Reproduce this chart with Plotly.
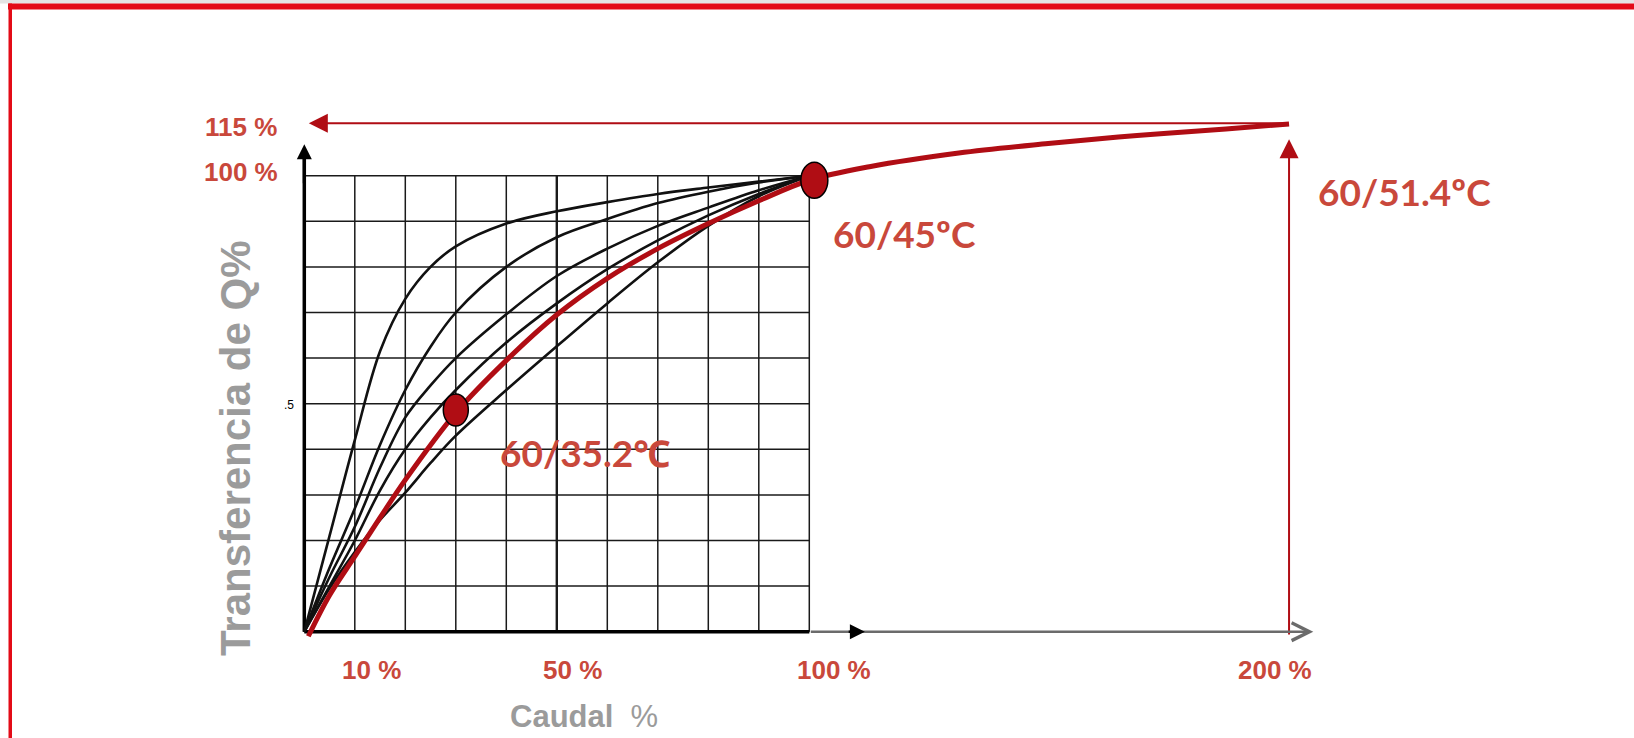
import plotly.graph_objects as go

W, H = 1634, 738
# pixel placement of the 0..1 frame of the chart inside the page
X0_PX, X_UNIT = 304.3, 505.0
Y0_PX, Y_UNIT = 631.7, 456.0

# ---------------- data ----------------
grid_ticks = [i / 10 for i in range(11)]

flow = [0.0, 0.05, 0.1, 0.15, 0.2, 0.25, 0.3, 0.4, 0.5, 0.6, 0.7, 0.8, 0.9, 1.0]
curve_a = [0.0, 0.21, 0.42, 0.615, 0.73, 0.80, 0.845, 0.895, 0.922, 0.942, 0.96, 0.974, 0.987, 1.0]
curve_b = [0.0, 0.14, 0.27, 0.41, 0.53, 0.625, 0.70, 0.80, 0.865, 0.905, 0.94, 0.965, 0.985, 1.0]
curve_c = [0.0, 0.12, 0.23, 0.36, 0.47, 0.54, 0.60, 0.696, 0.78, 0.84, 0.89, 0.93, 0.968, 1.0]
curve_d = [0.0, 0.10, 0.20, 0.31, 0.40, 0.47, 0.53, 0.634, 0.72, 0.795, 0.858, 0.913, 0.96, 1.0]
curve_e = [0.0, 0.095, 0.175, 0.245, 0.305, 0.37, 0.43, 0.53, 0.626, 0.72, 0.81, 0.89, 0.955, 1.0]
black_curves = [curve_a, curve_b, curve_c, curve_d, curve_e]

red_flow = [0.008, 0.05, 0.1, 0.15, 0.2, 0.3, 0.4, 0.5, 0.6, 0.7, 0.8, 0.9, 1.0,
            1.119, 1.296, 1.473, 1.649, 1.825, 1.95]
red_heat = [-0.01, 0.08, 0.165, 0.25, 0.333, 0.48, 0.595, 0.695, 0.775, 0.84, 0.895, 0.945, 0.99,
            1.0197, 1.0498, 1.0706, 1.0882, 1.1024, 1.1134]

point_flow = [0.30, 1.01]
point_heat = [0.486, 0.99]
point_labels = ["60/35.2℃", "60/45ºC"]
end_label = "60/51.4ºC"

max_flow = 1.95      # "200 %" position on the drawing
max_heat = 1.115     # "115 %" level
axis_end_flow = 1.998
y_axis_top = 1.069

x_tick_labels = ["10 %", "50 %", "100 %", "200 %"]
y_tick_labels = ["115 %", "100 %"]
y_mid_label = ".5"

# ---------------- styles ----------------
RED = "#B00D14"
TXT_RED = "#C9483B"
GRAY_TXT = "#9b9b9b"
BORDER = "#E30B17"


def px(x):
    return x / W


def py(y):
    return 1 - y / H


fig = go.Figure()

# black family of curves
for c in black_curves:
    fig.add_trace(go.Scatter(x=flow, y=c, mode="lines",
                             line=dict(color="#111111", width=2.6, shape="spline", smoothing=1.0),
                             hoverinfo="skip", showlegend=False))

# red curve
fig.add_trace(go.Scatter(x=red_flow, y=red_heat, mode="lines",
                         line=dict(color=RED, width=5, shape="spline", smoothing=1.0),
                         hoverinfo="skip", showlegend=False))

shapes = []
# grid (only inside 0..1 frame)
for t in grid_ticks:
    wv = 2.4 if abs(t - 0.5) < 1e-9 else 1.5
    shapes.append(dict(type="line", xref="x", yref="y", x0=t, x1=t, y0=0, y1=1,
                       line=dict(color="#1a1a1a", width=wv), layer="below"))
    shapes.append(dict(type="line", xref="x", yref="y", x0=0, x1=1, y0=t, y1=t,
                       line=dict(color="#1a1a1a", width=1.5), layer="below"))
# axes
shapes.append(dict(type="line", xref="x", yref="y", x0=0, x1=0, y0=0, y1=y_axis_top - 0.02,
                   line=dict(color="black", width=3.5), layer="below"))
shapes.append(dict(type="line", xref="x", yref="y", x0=0, x1=1, y0=0, y1=0,
                   line=dict(color="black", width=3.5), layer="below"))

# ellipse markers (pixel-sized, anchored on the data points)
for (fx, hy), (w, h) in zip(zip(point_flow, point_heat), [(25, 32), (27, 36)]):
    shapes.append(dict(type="circle", xref="x", yref="y", xsizemode="pixel", ysizemode="pixel",
                       xanchor=fx, yanchor=hy, x0=-w / 2, x1=w / 2, y0=-h / 2, y1=h / 2,
                       fillcolor=RED, line=dict(color="black", width=1.5), layer="above"))

# page border
shapes.append(dict(type="rect", xref="paper", yref="paper", x0=0, x1=1, y0=py(3.5), y1=1,
                   fillcolor="#e4e4e4", line=dict(width=0), layer="above"))
shapes.append(dict(type="rect", xref="paper", yref="paper", x0=px(8), x1=1, y0=py(9.5), y1=py(3.5),
                   fillcolor=BORDER, line=dict(width=0), layer="above"))
shapes.append(dict(type="rect", xref="paper", yref="paper", x0=px(8.5), x1=px(12), y0=0, y1=py(3.5),
                   fillcolor=BORDER, line=dict(width=0), layer="above"))

annotations = []
# arrows
annotations.append(dict(x=0.009, y=max_heat, ax=max_flow, ay=max_heat, xref="x", yref="y",
                        axref="x", ayref="y", text="", showarrow=True, arrowhead=2,
                        arrowsize=1.9, arrowwidth=2, arrowcolor=RED, standoff=0))
annotations.append(dict(x=max_flow, y=1.08, ax=max_flow, ay=-0.0095, xref="x", yref="y",
                        axref="x", ayref="y", text="", showarrow=True, arrowhead=2,
                        arrowsize=1.9, arrowwidth=2, arrowcolor=RED, standoff=0))
annotations.append(dict(x=axis_end_flow, y=0, ax=1.0, ay=0, xref="x", yref="y",
                        axref="x", ayref="y", text="", showarrow=True, arrowhead=5,
                        arrowsize=1.4, arrowwidth=2.5, arrowcolor="#6b6b6b", standoff=0))
annotations.append(dict(x=1.11, y=0, ax=1.075, ay=0, xref="x", yref="y",
                        axref="x", ayref="y", text="", showarrow=True, arrowhead=2,
                        arrowsize=1.2, arrowwidth=2.5, arrowcolor="black", standoff=0))
annotations.append(dict(x=0, y=y_axis_top, ax=0, ay=0.98, xref="x", yref="y",
                        axref="x", ayref="y", text="", showarrow=True, arrowhead=2,
                        arrowsize=1.0, arrowwidth=3, arrowcolor="black", standoff=0))

LBL = dict(family="Liberation Sans, Arial, sans-serif", size=26, color=TXT_RED)
# x labels (placed under the axis)
for t, xc in zip(x_tick_labels, [371, 572, 834, 1275]):
    annotations.append(dict(x=px(xc), y=py(670), xref="paper", yref="paper", text="<b>" + t + "</b>",
                            showarrow=False, font=LBL, xanchor="center", yanchor="middle"))
for t, yc in zip(y_tick_labels, [127, 172]):
    annotations.append(dict(x=px(241), y=py(yc), xref="paper", yref="paper", text="<b>" + t + "</b>",
                            showarrow=False, font=LBL, xanchor="center", yanchor="middle"))
annotations.append(dict(x=px(289), y=py(405), xref="paper", yref="paper", text=y_mid_label,
                        showarrow=False, font=dict(family="Liberation Sans, Arial", size=12, color="black"),
                        xanchor="center", yanchor="middle"))

# axis titles
annotations.append(dict(x=px(235), y=py(448), xref="paper", yref="paper",
                        text="<b>Transferencia de Q%</b>", textangle=-90, showarrow=False,
                        font=dict(family="Liberation Sans, Arial, sans-serif", size=42, color=GRAY_TXT),
                        xanchor="center", yanchor="middle"))
annotations.append(dict(x=px(584), y=py(716), xref="paper", yref="paper",
                        text="<b>Caudal</b>  %", showarrow=False,
                        font=dict(family="Liberation Sans, Arial, sans-serif", size=31, color=GRAY_TXT),
                        xanchor="center", yanchor="middle"))

# temperature labels
TMP = dict(family="Lato, Noto Sans, sans-serif", size=37, color=TXT_RED)
for t, (xc, yc) in zip(point_labels + [end_label], [(585, 452), (904, 233), (1404, 191)]):
    annotations.append(dict(x=px(xc), y=py(yc), xref="paper", yref="paper", text="<b>" + t + "</b>",
                            showarrow=False, font=TMP, xanchor="center", yanchor="middle"))

fig.update_layout(
    width=W, height=H,
    margin=dict(l=0, r=0, t=0, b=0),
    paper_bgcolor="white", plot_bgcolor="white",
    xaxis=dict(range=[-X0_PX / X_UNIT, (W - X0_PX) / X_UNIT], visible=False, fixedrange=True),
    yaxis=dict(range=[(Y0_PX - H) / Y_UNIT, Y0_PX / Y_UNIT], visible=False, fixedrange=True),
    shapes=shapes, annotations=annotations, showlegend=False,
)

fig.write_html("out.html", config={"displayModeBar": False},
               post_script="document.body.style.margin='0';document.body.style.overflow='hidden';")
